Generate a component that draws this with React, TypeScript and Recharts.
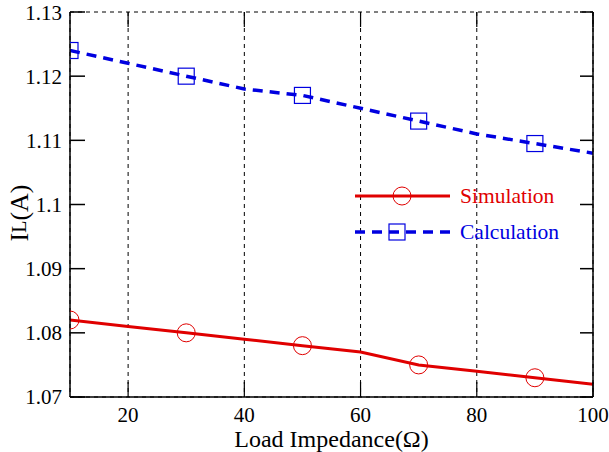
import React from 'react';
import { ComposedChart, Line, XAxis, YAxis, CartesianGrid } from 'recharts';

const loads = [10, 20, 30, 40, 50, 60, 70, 80, 90, 100];
const simulation = [1.082, 1.081, 1.08, 1.079, 1.078, 1.077, 1.075, 1.074, 1.073, 1.072];
const calculation = [1.124, 1.122, 1.12, 1.118, 1.117, 1.115, 1.113, 1.111, 1.1095, 1.108];
const markerLoads = [10, 30, 50, 70, 90];
const xTicks = [20, 40, 60, 80, 100];
const yTicks = [1.07, 1.08, 1.09, 1.1, 1.11, 1.12, 1.13];
const yTickLabels = ['1.07', '1.08', '1.09', '1.1', '1.11', '1.12', '1.13'];
const seriesNames = ['Simulation', 'Calculation'];

const data = loads.map((x, i) => ({ x, sim: simulation[i], calc: calculation[i] }));

const RED = '#e00000';
const BLUE = '#0000e0';
const FONT = '"Liberation Serif", "Times New Roman", serif';

const CircleDot = (props: any) => {
  const { cx, cy, payload, index } = props;
  if (!markerLoads.includes(payload.x)) return <g key={`c${index}`} />;
  return <circle key={`c${index}`} cx={cx} cy={cy} r={9} fill="none" stroke={RED} strokeWidth={1} />;
};

const SquareDot = (props: any) => {
  const { cx, cy, payload, index } = props;
  if (!markerLoads.includes(payload.x)) return <g key={`s${index}`} />;
  return <rect key={`s${index}`} x={cx - 8} y={cy - 8} width={16} height={16} fill="none" stroke={BLUE} strokeWidth={1.2} />;
};

const LegendBox = () => (
  <svg width={230} height={70} style={{ overflow: 'visible', display: 'block' }}>
    <line x1={0} y1={14} x2={95} y2={14} stroke={RED} strokeWidth={3} />
    <circle cx={47} cy={14} r={9} fill="none" stroke={RED} strokeWidth={1} />
    <text x={105} y={21} fill={RED} fontFamily={FONT} fontSize={21.5}>{seriesNames[0]}</text>
    <line x1={0} y1={50} x2={95} y2={50} stroke={BLUE} strokeWidth={3.5} strokeDasharray="10 7" />
    <rect x={34} y={42} width={16} height={16} fill="none" stroke={BLUE} strokeWidth={1.2} />
    <text x={105} y={57} fill={BLUE} fontFamily={FONT} fontSize={21.5}>{seriesNames[1]}</text>
  </svg>
);

export default function App() {
  return (
    <div style={{ position: 'absolute', left: 0, top: 0, width: 609, height: 452, background: '#fff' }}>
      <ComposedChart width={609} height={452} data={data} margin={{ top: 0, right: 0, left: 0, bottom: 0 }}>
        <CartesianGrid stroke="#000" strokeDasharray="4 4" strokeWidth={1} />
        <XAxis
          dataKey="x"
          type="number"
          domain={[10, 100]}
          ticks={xTicks}
          allowDataOverflow
          height={55}
          axisLine={{ stroke: '#000', strokeWidth: 1.5 }}
          tickLine={{ stroke: '#000', strokeWidth: 1.2 }}
          tickSize={-15}
          tickMargin={25}
          tick={{ fill: '#000', fontFamily: FONT, fontSize: 21 }}
          label={(p: any) => {
            const vb = p.viewBox || {};
            const cx = (vb.x ?? 70) + (vb.width ?? 523) / 2;
            return (
              <text x={cx} y={447} textAnchor="middle" fill="#000" fontFamily={FONT} fontSize={24}>
                Load Impedance(Ω)
              </text>
            );
          }}
        />
        <XAxis
          xAxisId="top"
          orientation="top"
          dataKey="x"
          type="number"
          domain={[10, 100]}
          ticks={xTicks}
          allowDataOverflow
          height={12}
          axisLine={false}
          tickLine={{ stroke: '#000', strokeWidth: 1.2 }}
          tickSize={-15}
          tickFormatter={() => ''}
        />
        <YAxis
          yAxisId="l"
          type="number"
          domain={[1.07, 1.13]}
          ticks={yTicks}
          allowDataOverflow
          width={70}
          axisLine={{ stroke: '#000', strokeWidth: 1.5 }}
          tickLine={{ stroke: '#000', strokeWidth: 1.5 }}
          tickSize={-15}
          tickMargin={23}
          tickFormatter={(v: number) => yTickLabels[yTicks.findIndex((t) => Math.abs(t - v) < 1e-9)] ?? ''}
          tick={{ fill: '#000', fontFamily: FONT, fontSize: 21 }}
          label={() => {
            const cx = 19;
            const cy = 213;
            return (
              <text x={cx} y={cy} transform={`rotate(-90 ${cx} ${cy})`} textAnchor="middle" dominantBaseline="central" fill="#000" fontFamily={FONT} fontSize={26}>
                I<tspan fontSize={20}>L</tspan>(A)
              </text>
            );
          }}
        />
        <YAxis
          yAxisId="r"
          orientation="right"
          type="number"
          domain={[1.07, 1.13]}
          ticks={yTicks}
          allowDataOverflow
          width={16}
          axisLine={{ stroke: '#000', strokeWidth: 1.5 }}
          tickLine={{ stroke: '#000', strokeWidth: 1.5 }}
          tickSize={-13}
          tickFormatter={() => ''}
        />
        <Line
          yAxisId="l"
          dataKey="calc"
          name={seriesNames[1]}
          stroke={BLUE}
          strokeWidth={3.5}
          strokeDasharray="10 7"
          dot={SquareDot}
          activeDot={false}
          isAnimationActive={false}
          type="linear"
        />
        <Line
          yAxisId="l"
          dataKey="sim"
          name={seriesNames[0]}
          stroke={RED}
          strokeWidth={3}
          dot={CircleDot}
          activeDot={false}
          isAnimationActive={false}
          type="linear"
        />
      </ComposedChart>
      <div style={{ position: 'absolute', left: 355, top: 182 }}>
        <LegendBox />
      </div>
    </div>
  );
}
